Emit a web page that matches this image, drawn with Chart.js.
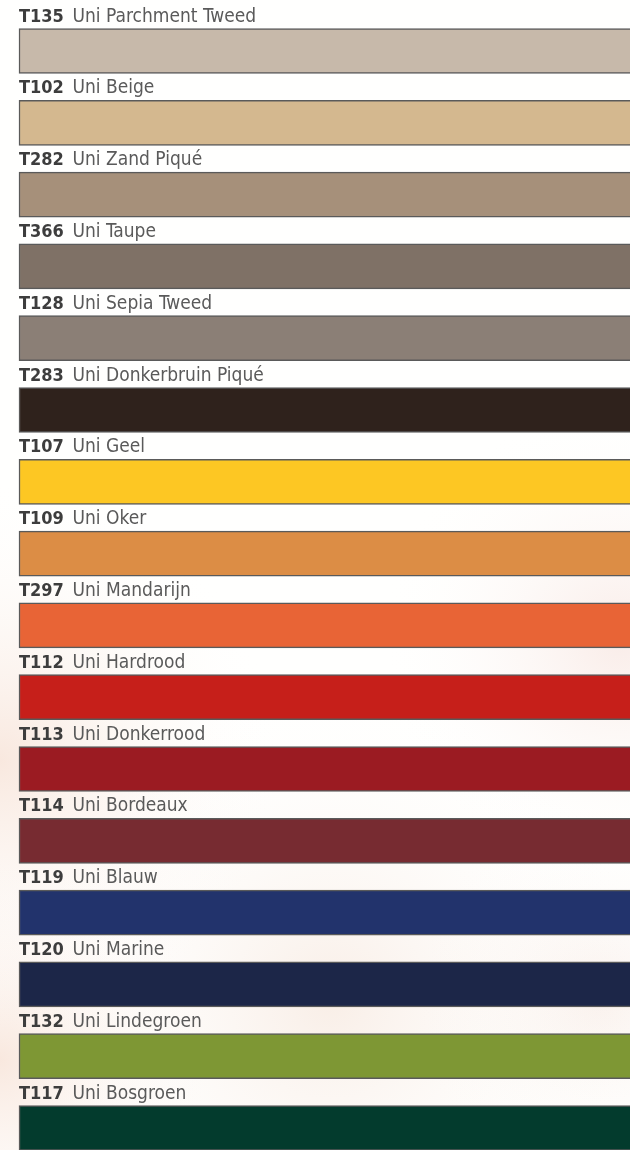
<!DOCTYPE html>
<html>
<head>
<meta charset="utf-8">
<script src="https://cdn.jsdelivr.net/npm/chart.js@4.4.1/dist/chart.umd.min.js"></script>
<style>
  html, body { margin: 0; padding: 0; background: #fff; }
  #wrap { position: relative; width: 630px; height: 1150px; }
</style>
</head>
<body>
<div id="wrap"><canvas id="swatchChart"></canvas></div>
<script>
// ── Data ───────────────────────────────────────────
const codes = [
    'T135', 'T102', 'T282', 'T366', 'T128', 'T283', 'T107', 'T109',
    'T297', 'T112', 'T113', 'T114', 'T119', 'T120', 'T132', 'T117'
];
const names = [
    'Uni Parchment Tweed', 'Uni Beige', 'Uni Zand Piqué', 'Uni Taupe',
    'Uni Sepia Tweed', 'Uni Donkerbruin Piqué', 'Uni Geel', 'Uni Oker',
    'Uni Mandarijn', 'Uni Hardrood', 'Uni Donkerrood', 'Uni Bordeaux',
    'Uni Blauw', 'Uni Marine', 'Uni Lindegroen', 'Uni Bosgroen'
];
const swatchColors = [
    '#c7b9aa', '#d4b88f', '#a6907a', '#7f7166', '#8b7f76', '#2f221c', '#fdc723', '#dc8d45',
    '#e86436', '#c61f1a', '#9b1b22', '#772b31', '#22336c', '#1c2648', '#7e9734', '#033b2d'
];
// every swatch runs the full width of the page
const widths = [1, 1, 1, 1, 1, 1, 1, 1, 1, 1, 1, 1, 1, 1, 1, 1];

// ── Plugins ────────────────────────────────────────
const pageBackground = {
    id: 'pageBackground',
    beforeDraw(chart) {
        const { ctx, width, height } = chart;
        ctx.save();
        ctx.fillStyle = '#fffffe';
        ctx.fillRect(0, 0, width, height);
        const glow = (x, y, r, color) => {
            const g = ctx.createRadialGradient(x, y, 0, x, y, r);
            g.addColorStop(0, color);
            g.addColorStop(1, 'rgba(255,255,255,0)');
            ctx.fillStyle = g;
            ctx.fillRect(0, 0, width, height);
        };
        glow(0, 760, 280, 'rgba(225,150,110,0.22)');
        glow(620, 640, 240, 'rgba(220,140,120,0.16)');
        glow(330, 1000, 320, 'rgba(215,150,110,0.16)');
        glow(0, 1060, 220, 'rgba(225,150,110,0.22)');
        glow(600, 1000, 200, 'rgba(215,150,120,0.12)');
        ctx.restore();
    }
};

const swatchLabels = {
    id: 'swatchLabels',
    afterDatasetsDraw(chart) {
        const { ctx } = chart;
        const meta = chart.getDatasetMeta(0);
        ctx.save();
        ctx.textBaseline = 'alphabetic';
        ctx.textAlign = 'left';
        meta.data.forEach((bar, i) => {
            const { y, height } = bar.getProps(['y', 'height'], true);
            const left = chart.chartArea.left;
            const baseline = y - height / 2 - 7;
            ctx.font = "bold 18px 'DejaVu Sans Condensed', 'DejaVu Sans', sans-serif";
            ctx.fillStyle = '#3d3d3d';
            ctx.fillText(codes[i], left, baseline);
            const w = ctx.measureText(codes[i] + ' ').width;
            ctx.font = "19px 'DejaVu Sans Condensed', 'DejaVu Sans', sans-serif";
            ctx.fillStyle = '#5a5a5a';
            ctx.fillText(names[i], left + w + 3, baseline);
        });
        ctx.restore();
    }
};

// ── Swatch Chart ───────────────────────────────────
new Chart(document.getElementById('swatchChart'), {
    type: 'bar',
    data: {
        labels: codes,
        datasets: [{
            data: widths,
            backgroundColor: swatchColors,
            borderColor: '#5a5a5a',
            borderWidth: 1.5,
            borderSkipped: 'end',
            barThickness: 45,
            clip: false,
        }]
    },
    options: {
        indexAxis: 'y',
        responsive: true,
        maintainAspectRatio: false,
        animation: false,
        layout: { padding: { left: 19, right: 0, top: 51, bottom: 22 } },
        plugins: {
            legend: { display: false },
            tooltip: { enabled: false }
        },
        scales: {
            x: { display: false, min: 0, max: 1 },
            y: { display: false, offset: false }
        }
    },
    plugins: [pageBackground, swatchLabels]
});
</script>
</body>
</html>
